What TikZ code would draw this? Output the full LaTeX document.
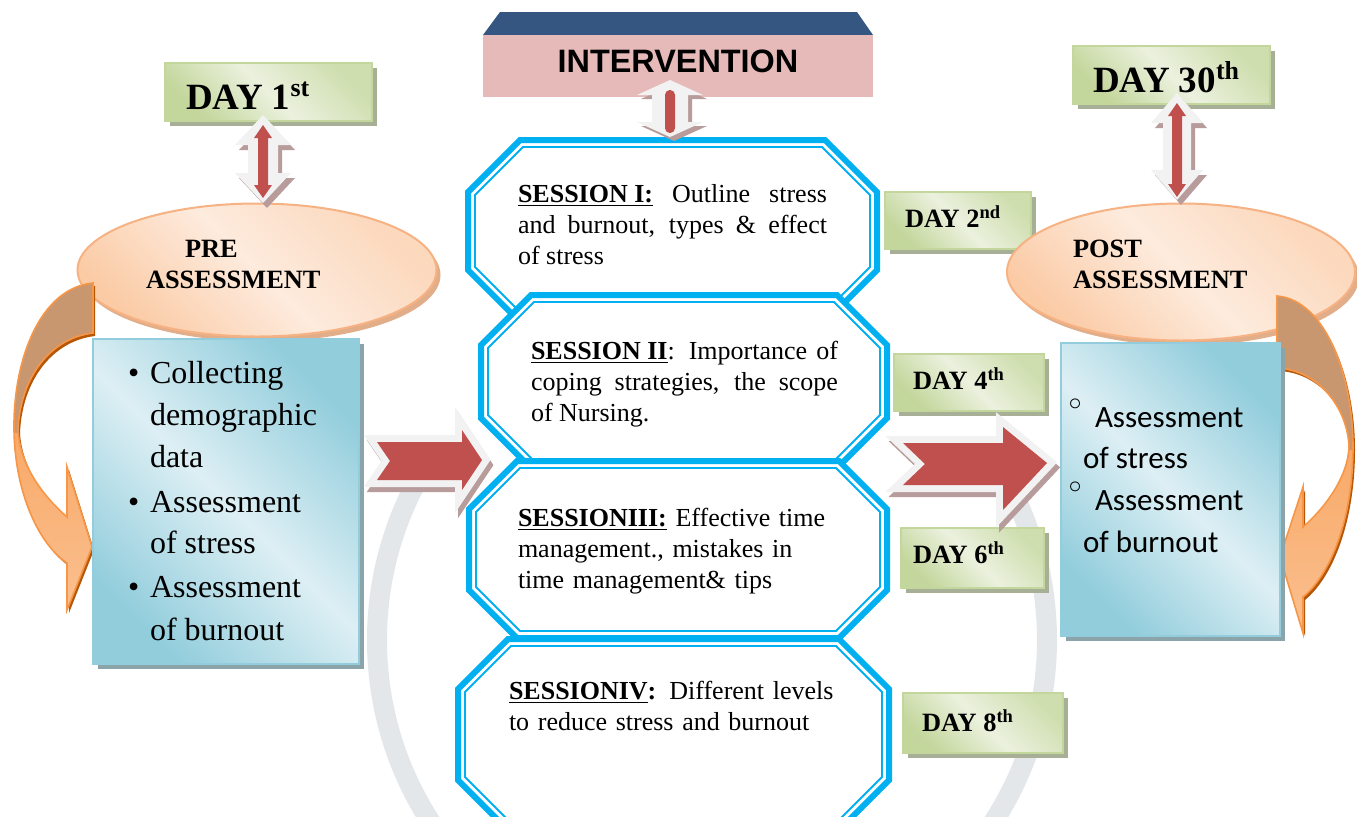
\documentclass[tikz,border=0pt]{standalone}
\usepackage{fontspec}
\setmainfont{Liberation Serif}
\newfontfamily\sansb{Liberation Sans}
\newfontfamily\calib{Carlito}
\newfontfamily\dv{DejaVu Sans}
\usetikzlibrary{shapes.geometric,shadows}
\definecolor{sessblue}{HTML}{00B0F0}
\definecolor{redc}{HTML}{C0504D}
\definecolor{greyarr}{HTML}{F2F2F2}
\definecolor{arrshadow}{HTML}{B89C9C}
\definecolor{orangec}{HTML}{F79646}
\definecolor{orangel}{HTML}{FAC090}
\definecolor{brownc}{HTML}{C9976F}
\definecolor{orangedk}{HTML}{B65708}
\definecolor{peachd}{HTML}{FBCBA6}
\definecolor{peachl}{HTML}{FDEBDD}
\definecolor{peachb}{HTML}{F7B283}
\definecolor{ellshadow}{HTML}{E2AE8A}
\definecolor{blued}{HTML}{92CDDC}
\definecolor{bluel}{HTML}{DDEFF4}
\definecolor{blueb}{HTML}{93CDDD}
\definecolor{boxshadow}{HTML}{8AA4AA}
\definecolor{greend}{HTML}{C3D69B}
\definecolor{greenl}{HTML}{EBF1DE}
\definecolor{greenb}{HTML}{C3D69B}
\definecolor{greenshadow}{HTML}{A7B096}
\definecolor{navyc}{HTML}{345681}
\definecolor{pinkc}{HTML}{E6BAB9}
\definecolor{wmark}{HTML}{E3E7EA}

\newcommand\octpath[6]{\path[#6] ({(#1)+(#5)},{#2}) -- ({(#3)-(#5)},{#2}) -- ({#3},{(#2)+(#5)}) -- ({#3},{(#4)-(#5)}) -- ({(#3)-(#5)},{#4}) -- ({(#1)+(#5)},{#4}) -- ({#1},{(#4)-(#5)}) -- ({#1},{(#2)+(#5)}) -- cycle;}
\newcommand\octa[5]{\octpath{#1}{#2}{#3}{#4}{#5}{sessout}\octpath{#1+7}{#2+7}{#3-7}{#4-7}{#5-4}{sessin}}
\newcommand\lcurve[1]{\path[#1] (93,283) .. controls (40,288) and (13,360) .. (14,430) .. controls (15,495) and (40,545) .. (67,563) -- (67,610) -- (92,547) -- (67,467) -- (67,517) .. controls (42,495) and (20,465) .. (18,430) .. controls (20,378) and (50,338) .. (93,333) -- cycle;}
\newcommand\rcurve[1]{\path[#1] (1277,296) .. controls (1325,300) and (1353,375) .. (1353,447) .. controls (1353,520) and (1330,575) .. (1303,597) -- (1303,633) -- (1280,557) -- (1303,487) -- (1303,527) .. controls (1328,505) and (1348,475) .. (1349,447) .. controls (1348,410) and (1320,370) .. (1277,368) -- cycle;}
\newcommand\blockL[1]{\path[#1] (377,442) -- (462,442) -- (462,430) -- (482,460) -- (462,490) -- (462,480) -- (377,480) -- (390,461) -- cycle;}
\newcommand\blockR[1]{\path[#1] (903,443) -- (1003,443) -- (1003,427) -- (1047,463) -- (1003,510) -- (1003,485) -- (903,485) -- (925,464) -- cycle;}
\newcommand\vdbl[7]{\path[#7] (#1,#2) -- ({(#1)+(#4)},{(#2)+(#6)}) -- ({(#1)+(#5)},{(#2)+(#6)}) -- ({(#1)+(#5)},{(#3)-(#6)}) -- ({(#1)+(#4)},{(#3)-(#6)}) -- (#1,#3) -- ({(#1)-(#4)},{(#3)-(#6)}) -- ({(#1)-(#5)},{(#3)-(#6)}) -- ({(#1)-(#5)},{(#2)+(#6)}) -- ({(#1)-(#4)},{(#2)+(#6)}) -- cycle;}

\begin{document}
\begin{tikzpicture}[x=0.5pt,y=-0.5pt,
  sessout/.style={draw=sessblue, line width=3pt, fill=white, line join=miter},
  sessin/.style={draw=sessblue, line width=0.9pt, line join=miter},
  txt/.style={inner sep=0pt, outer sep=0pt, anchor=base west},
  ltxt/.style={txt, font=\fontsize{16}{21.4}\selectfont},
  ctxt/.style={txt, font=\calib\fontsize{15.5}{20}\selectfont},
  stxt/.style={txt, font=\fontsize{13}{15.5}\selectfont},
  bigday/.style={txt, font=\bfseries\fontsize{18.5}{20}\selectfont},
  smday/.style={txt, font=\bfseries\fontsize{13.2}{15}\selectfont},
  asstxt/.style={txt, font=\bfseries\fontsize{13.2}{15}\selectfont},
  daybox/.style={rectangle, anchor=north west, draw=greenb, line width=1.2pt, left color=greend, right color=greend!70!greenl, middle color=greenl, shading angle=135, drop shadow={shadow xshift=2.5pt, shadow yshift=-2.5pt, fill=greenshadow, opacity=1}, inner sep=0pt},
  bbox/.style={rectangle, anchor=north west, draw=blueb, line width=1.2pt, left color=blued, right color=blued, middle color=bluel, shading angle=135, drop shadow={shadow xshift=2.5pt, shadow yshift=-2.5pt, fill=boxshadow, opacity=1}, inner sep=0pt},
  ell/.style={ellipse, draw=peachb, line width=1pt, left color=peachd, right color=peachd!60!peachl, middle color=peachl, shading angle=135, drop shadow={shadow xshift=2pt, shadow yshift=-2.5pt, fill=ellshadow, opacity=1}, inner sep=0pt},
  bul/.style={inner sep=0pt, font=\dv\fontsize{17}{17}\selectfont}
]
\useasboundingbox (0,0) rectangle (1357,816);
\clip (0,0) rectangle (1357,816);
\fill[white] (0,0) rectangle (1357,816);

% watermark ring
\begin{scope}
\clip (0,440) rectangle (1357,816);
\draw[wmark, line width=10pt] (712,640) circle[radius=335];
\end{scope}

% day boxes
\node[daybox, minimum width=103.5pt, minimum height=29pt] (d1) at (164,62) {};
\node[daybox, minimum width=98.5pt, minimum height=29pt] (d30) at (1072,45) {};
\node[daybox, minimum width=73pt, minimum height=28.5pt] (d2) at (884,191) {};
\node[daybox, minimum width=75pt, minimum height=28.5pt] (d4) at (893,353) {};
\node[daybox, minimum width=71.5pt, minimum height=30pt] (d6) at (900,527) {};
\node[daybox, minimum width=80pt, minimum height=30pt] (d8) at (902,692) {};

% ellipses
\node[ell, minimum width=179.5pt, minimum height=66.5pt] (pre) at (257,270) {};
\node[ell, minimum width=174pt, minimum height=68.5pt] (post) at (1181,272) {};

% curved arrows
\lcurve{fill=orangedk, shift={(2,3)}}
\lcurve{top color=orangec, bottom color=orangel}
\begin{scope}\clip (0,270) rectangle (100,432); \lcurve{fill=brownc}\end{scope}
\lcurve{draw=orangec, line width=0.8pt, line join=miter}
\rcurve{fill=orangedk, shift={(2,3)}}
\rcurve{top color=orangec, bottom color=orangel}
\begin{scope}\clip (1260,280) rectangle (1357,449); \rcurve{fill=brownc}\end{scope}
\rcurve{draw=orangec, line width=0.8pt, line join=miter}

% boxes
\node[bbox, minimum width=133pt, minimum height=162.5pt] (lbox) at (92,338) {};
\node[bbox, minimum width=109.5pt, minimum height=146.5pt] (rbox) at (1060,342) {};

% vertical double arrows
\vdbl{263}{115}{203}{28}{15}{30}{fill=arrshadow, shift={(4,5)}}
\vdbl{263}{115}{203}{28}{15}{30}{fill=greyarr}
\vdbl{263}{125}{198}{9}{5}{13}{fill=redc}
\vdbl{1177}{93}{200}{26}{14}{30}{fill=arrshadow, shift={(4,5)}}
\vdbl{1177}{93}{200}{26}{14}{30}{fill=greyarr}
\vdbl{1177}{103}{197}{9}{5}{13}{fill=redc}

% sessions
\octa{468}{140}{877}{322}{52}
\octa{481}{295}{887}{468}{50}
\octa{469}{461}{887}{638}{48}
\octa{458}{639}{889}{830}{50}

% block arrows
\blockL{draw=arrshadow, fill=arrshadow, line width=7pt, line join=miter, shift={(3,5)}}
\blockL{draw=greyarr, fill=greyarr, line width=7pt, line join=miter}
\blockL{fill=redc}
\blockR{draw=arrshadow, fill=arrshadow, line width=7pt, line join=miter, shift={(3,5)}}
\blockR{draw=greyarr, fill=greyarr, line width=7pt, line join=miter}
\blockR{fill=redc}

% intervention
\fill[navyc] (500,12) -- (857,12) -- (873,35) -- (483,35) -- cycle;
\node[rectangle, anchor=north west, fill=pinkc, minimum width=195pt, minimum height=31pt, inner sep=0pt] (intv) at (483,35) {};
\vdbl{670}{80}{137}{33}{18}{15}{fill=arrshadow, shift={(4,4)}}
\vdbl{670}{80}{137}{33}{18}{15}{fill=greyarr}
\path[fill=redc, rounded corners=2.4pt] (665,90) rectangle (675,133);
\node[inner sep=0pt, anchor=base, font=\sansb\bfseries\fontsize{16.2}{18}\selectfont] (intvt) at (678,72) {INTERVENTION};

% texts
\node[bigday] (t1) at (186,109) {DAY 1\textsuperscript{st}};
\node[bigday] (t30) at (1093,92) {DAY 30\textsuperscript{th}};
\node[smday] (t2) at (905,227) {DAY 2\textsuperscript{nd}};
\node[smday] (t4) at (913,389) {DAY 4\textsuperscript{th}};
\node[smday] (t6) at (913,563) {DAY 6\textsuperscript{th}};
\node[smday] (t8) at (922,731) {DAY 8\textsuperscript{th}};

\node[asstxt] (pr1) at (185,257) {PRE};
\node[asstxt] (pr2) at (146,288) {ASSESSMENT};
\node[asstxt] (po1) at (1073,257) {POST};
\node[asstxt] (po2) at (1073,288) {ASSESSMENT};

\node[ltxt] (b1) at (128,383) {\textbullet};
\node[ltxt] (l1) at (150,383) {Collecting};
\node[ltxt] (l2) at (150,425) {demographic};
\node[ltxt] (l3) at (150,467) {data};
\node[ltxt] (b2) at (128,512) {\textbullet};
\node[ltxt] (l4) at (150,512) {Assessment};
\node[ltxt] (l5) at (150,553) {of stress};
\node[ltxt] (b3) at (128,597) {\textbullet};
\node[ltxt] (l6) at (150,597) {Assessment};
\node[ltxt] (l7) at (150,640) {of burnout};

\node[bul] (c1) at (1076,408) {◦};
\node[ctxt] (r1) at (1095,427) {Assessment};
\node[ctxt] (r2) at (1083,468) {of stress};
\node[bul] (c2) at (1076,491) {◦};
\node[ctxt] (r3) at (1095,510) {Assessment};
\node[ctxt] (r4) at (1083,552) {of burnout};

\node[stxt, text width=154.5pt, align=justify] (s1t) at (518,202) {\underline{\textbf{SESSION I:}} Outline stress\linebreak and burnout, types \& effect\linebreak of stress};
\node[stxt, text width=153.5pt, align=justify] (s2t) at (531,359) {\underline{\textbf{SESSION II}}: Importance of\linebreak coping strategies, the scope\linebreak of Nursing.};
\node[stxt, text width=175pt, align=left] (s3t) at (518,526) {\underline{\textbf{SESSIONIII:}} Effective time\\ management., mistakes in\\ time management\& tips};
\node[stxt, text width=175pt, align=left] (s4t) at (509,699) {\underline{\textbf{SESSIONIV}}\textbf{:} Different levels\\ to reduce stress and burnout};
\end{tikzpicture}
\end{document}
